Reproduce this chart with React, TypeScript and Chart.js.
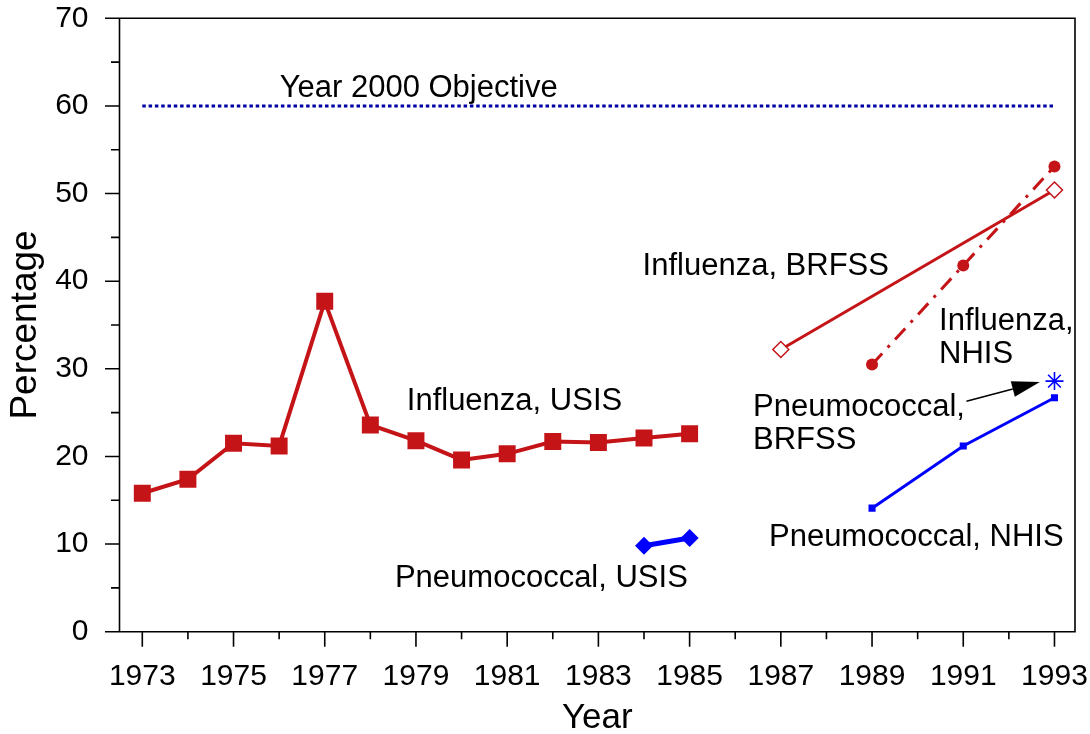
import React, { useEffect, useRef } from "react";
import { Chart, registerables } from "chart.js";

Chart.register(...registerables);

// ---- Data ----
const usisYears = [1973, 1974, 1975, 1976, 1977, 1978, 1979, 1980, 1981, 1982, 1983, 1984, 1985];
const influenzaUSIS = [15.8, 17.4, 21.5, 21.2, 37.7, 23.6, 21.8, 19.6, 20.3, 21.7, 21.6, 22.1, 22.6];
const pneumoUSISYears = [1984, 1985];
const pneumoUSIS = [9.8, 10.7];
const brfssYears = [1987, 1993];
const influenzaBRFSS = [32.2, 50.4];
const nhisYears = [1989, 1991, 1993];
const influenzaNHIS = [30.5, 41.8, 53.1];
const pneumoNHIS = [14.1, 21.2, 26.7];
const pneumoBRFSSYears = [1993];
const pneumoBRFSS = [28.6];
const objectiveYears = [1973, 1993];
const objective = [60, 60];

const xTickYears = [1973, 1974, 1975, 1976, 1977, 1978, 1979, 1980, 1981, 1982, 1983, 1984, 1985, 1986, 1987, 1988, 1989, 1990, 1991, 1992, 1993];
const xLabelYears = [1973, 1975, 1977, 1979, 1981, 1983, 1985, 1987, 1989, 1991, 1993];
const yMajorTicks = [0, 10, 20, 30, 40, 50, 60, 70];
const yMinorTicks = [5, 15, 25, 35, 45, 55, 65];

// annotation labels (positions in data units: year, percentage baseline)
const noteTexts = ["Year 2000 Objective", "Influenza, USIS", "Pneumococcal, USIS", "Pneumococcal, NHIS", "Influenza, BRFSS", "Influenza,", "NHIS", "Pneumococcal,", "BRFSS"];
const noteX = [1979.06, 1981.16, 1981.75, 1989.97, 1986.67, 1990.47, 1990.47, 1986.39, 1986.39];
const noteY = [61.05, 25.3, 5.13, 9.81, 40.7, 34.43, 30.63, 24.65, 20.85];
const noteAlign = ["center", "center", "center", "center", "center", "left", "left", "left", "left"];
const arrowFrom = [1991.07, 26.3];
const arrowTo = [1992.68, 28.5];

const RED = "rgb(196,20,24)";
const BLUE = "rgb(0,0,255)";
const DARKBLUE = "rgb(0,0,165)";
const FONT = "'Liberation Sans', Arial, sans-serif";

const pts = (xs: number[], ys: number[]) => xs.map((x, i) => ({ x, y: ys[i] }));

const decorPlugin = {
  id: "decor",
  afterDraw(chart: any) {
    const { ctx, chartArea: a, scales } = chart;
    const x = scales.x;
    const y = scales.y;
    ctx.save();
    ctx.strokeStyle = "#000";
    ctx.lineWidth = 1.6;
    ctx.beginPath();
    ctx.rect(a.left, a.top, a.right - a.left, a.bottom - a.top);
    yMajorTicks.forEach((v) => {
      const p = y.getPixelForValue(v);
      ctx.moveTo(a.left - 14.5, p);
      ctx.lineTo(a.left, p);
    });
    yMinorTicks.forEach((v) => {
      const p = y.getPixelForValue(v);
      ctx.moveTo(a.left - 8.5, p);
      ctx.lineTo(a.left, p);
    });
    xTickYears.forEach((v) => {
      const p = x.getPixelForValue(v);
      const len = xLabelYears.includes(v) ? 15 : 7.5;
      ctx.moveTo(p, a.bottom);
      ctx.lineTo(p, a.bottom + len);
    });
    ctx.stroke();

    // annotation text
    ctx.fillStyle = "#000";
    ctx.font = `31px ${FONT}`;
    ctx.textBaseline = "alphabetic";
    noteTexts.forEach((t, i) => {
      ctx.textAlign = noteAlign[i];
      ctx.fillText(t, x.getPixelForValue(noteX[i]), y.getPixelForValue(noteY[i]));
    });

    // arrow
    const x0 = x.getPixelForValue(arrowFrom[0]);
    const y0 = y.getPixelForValue(arrowFrom[1]);
    const x1 = x.getPixelForValue(arrowTo[0]);
    const y1 = y.getPixelForValue(arrowTo[1]);
    const ang = Math.atan2(y1 - y0, x1 - x0);
    const hl = 28;
    const hw = 8;
    const bx = x1 - hl * Math.cos(ang);
    const by = y1 - hl * Math.sin(ang);
    ctx.lineWidth = 1.5;
    ctx.beginPath();
    ctx.moveTo(x0, y0);
    ctx.lineTo(bx, by);
    ctx.stroke();
    ctx.beginPath();
    ctx.moveTo(x1, y1);
    ctx.lineTo(bx + hw * Math.sin(ang), by - hw * Math.cos(ang));
    ctx.lineTo(bx - hw * Math.sin(ang), by + hw * Math.cos(ang));
    ctx.closePath();
    ctx.fill();
    ctx.restore();
  },
};

export default function App() {
  const ref = useRef<HTMLCanvasElement | null>(null);
  useEffect(() => {
    if (!ref.current) return;
    const chart = new Chart(ref.current, {
      type: "line",
      data: {
        datasets: [
          {
            label: "Year 2000 Objective",
            data: pts(objectiveYears, objective),
            borderColor: DARKBLUE,
            borderWidth: 3,
            borderDash: [3.5, 2.8],
            pointRadius: 0,
          },
          {
            label: "Influenza, BRFSS",
            data: pts(brfssYears, influenzaBRFSS),
            borderColor: RED,
            borderWidth: 3,
            pointStyle: "rectRot",
            pointRadius: 8,
            pointBorderWidth: 1.5,
            pointBackgroundColor: "#fff",
            pointBorderColor: RED,
          },
          {
            label: "Influenza, NHIS",
            data: pts(nhisYears, influenzaNHIS),
            borderColor: RED,
            borderWidth: 3,
            borderDash: [15, 8, 3, 8],
            pointStyle: "circle",
            pointRadius: 6,
            pointBorderWidth: 0,
            pointBackgroundColor: RED,
          },
          {
            label: "Pneumococcal, NHIS",
            data: pts(nhisYears, pneumoNHIS),
            borderColor: BLUE,
            borderWidth: 3,
            pointStyle: "rect",
            pointRadius: 5,
            pointBorderWidth: 0,
            pointBackgroundColor: BLUE,
          },
          {
            label: "Pneumococcal, BRFSS",
            data: pts(pneumoBRFSSYears, pneumoBRFSS),
            borderColor: BLUE,
            showLine: false,
            pointStyle: "star",
            pointRadius: 9,
            pointBorderWidth: 1.6,
            pointBorderColor: BLUE,
          },
          {
            label: "Influenza, USIS",
            data: pts(usisYears, influenzaUSIS),
            borderColor: RED,
            borderWidth: 4,
            pointStyle: "rect",
            pointRadius: 12,
            pointBorderWidth: 0,
            pointBackgroundColor: RED,
          },
          {
            label: "Pneumococcal, USIS",
            data: pts(pneumoUSISYears, pneumoUSIS),
            borderColor: BLUE,
            borderWidth: 5,
            pointStyle: "rectRot",
            pointRadius: 9,
            pointBorderWidth: 0,
            pointBackgroundColor: BLUE,
          },
        ],
      },
      options: {
        responsive: true,
        maintainAspectRatio: false,
        animation: false,
        layout: { padding: { left: 0, top: 18.3, right: 15, bottom: 0 } },
        plugins: { legend: { display: false }, tooltip: { enabled: false } },
        elements: { line: { tension: 0, fill: false } },
        scales: {
          x: {
            type: "linear",
            min: 1972.5,
            max: 1993.45,
            afterBuildTicks: (s: any) => {
              s.ticks = xTickYears.map((v) => ({ value: v }));
            },
            afterFit: (s: any) => {
              s.height = 102.3;
              s.paddingLeft = 0;
              s.paddingRight = 0;
            },
            grid: { display: false },
            border: { display: false },
            ticks: {
              autoSkip: false,
              maxRotation: 0,
              padding: 19,
              color: "#000",
              font: { family: FONT, size: 30 },
              callback: (v: any) => (xLabelYears.includes(Number(v)) ? String(v) : ""),
            },
            title: {
              display: true,
              text: "Year",
              color: "#000",
              font: { family: FONT, size: 35, lineHeight: 1 },
              padding: { top: 0, bottom: -2 },
            },
          },
          y: {
            min: 0,
            max: 70,
            afterBuildTicks: (s: any) => {
              s.ticks = yMajorTicks.map((v) => ({ value: v }));
            },
            afterFit: (s: any) => {
              s.width = 119.5;
              s.paddingTop = 0;
              s.paddingBottom = 0;
            },
            grid: { display: false },
            border: { display: false },
            ticks: {
              padding: 23,
              color: "#000",
              font: { family: FONT, size: 30 },
            },
            title: {
              display: true,
              text: "Percentage",
              color: "#000",
              font: { family: FONT, size: 37, lineHeight: 1 },
              padding: { top: 7, bottom: 0 },
            },
          },
        },
      },
      plugins: [decorPlugin],
    });
    return () => chart.destroy();
  }, []);
  return (
    <div style={{ position: "absolute", left: 0, top: 0, width: 1090, height: 734, background: "#fff" }}>
      <canvas ref={ref} />
    </div>
  );
}
